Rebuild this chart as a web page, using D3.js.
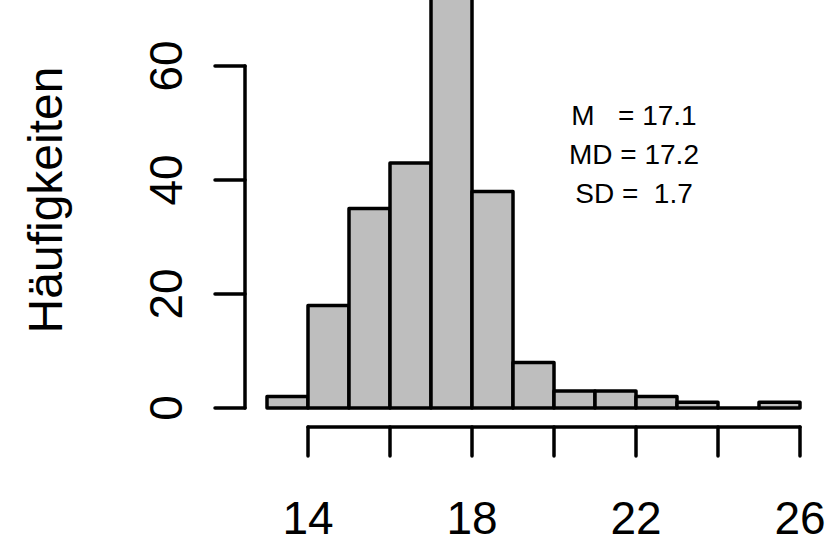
<!DOCTYPE html>
<html>
<head>
<meta charset="utf-8">
<script src="https://cdn.jsdelivr.net/npm/d3@7"></script>
<style>
	html, body { margin: 0; padding: 0; background: #fff; }
	svg { display: block; font-family: "Liberation Sans", Arial, sans-serif; }
</style>
</head>
<body>
<div id="chart"></div>
<script>
/**
 * Data
 */
let binEdges = [13, 14, 15, 16, 17, 18, 19, 20, 21, 22, 23, 24, 25, 26];
let counts = [2, 18, 35, 43, 75, 38, 8, 3, 3, 2, 1, 0, 1];
let xTicks = [14, 16, 18, 20, 22, 24, 26];
let xTickLabels = ["14", "", "18", "", "22", "", "26"];
let yTicks = [0, 20, 40, 60];
let statLines = ["M   = 17.1", "MD = 17.2", "SD =  1.7"];
let yTitle = "Häufigkeiten";

/**
 * Dimensions
 */
let width = 836;
let height = 536;
let lineW = 3.5;

let svg = d3.select("#chart").append("svg")
	.attr("width", width)
	.attr("height", height);

// Scales
let xScale = d3.scaleLinear().domain([13, 26]).range([267, 800]);
let yScale = d3.scaleLinear().domain([0, 60]).range([408, 66]);

let bins = counts.map(function(c, i) {
	return { x0: binEdges[i], x1: binEdges[i + 1], count: c };
});

// Bars (drawn as closed paths so that an empty bin still shows its outline)
svg.append("g").classed("bars", true)
	.selectAll("path")
	.data(bins)
	.enter().append("path")
	.attr("d", function(d) {
		let p = d3.path();
		p.moveTo(xScale(d.x0), yScale(0));
		p.lineTo(xScale(d.x0), yScale(d.count));
		p.lineTo(xScale(d.x1), yScale(d.count));
		p.lineTo(xScale(d.x1), yScale(0));
		p.closePath();
		return p.toString();
	})
	.attr("fill", "#bebebe")
	.attr("stroke", "#000")
	.attr("stroke-width", lineW)
	.attr("stroke-linejoin", "round")
	.attr("stroke-linecap", "round");

// Y Axis (R style, offset to the left)
let yAxis = svg.append("g").classed("yAxis", true)
	.attr("transform", "translate(245,0)");

yAxis.append("line")
	.attr("x1", 0).attr("x2", 0)
	.attr("y1", yScale(0)).attr("y2", yScale(60))
	.attr("stroke", "#000")
	.attr("stroke-width", lineW)
	.attr("stroke-linecap", "round");

yAxis.selectAll(".tick")
	.data(yTicks)
	.enter().append("line")
	.attr("x1", -30).attr("x2", 0)
	.attr("y1", function(d) { return yScale(d); })
	.attr("y2", function(d) { return yScale(d); })
	.attr("stroke", "#000")
	.attr("stroke-width", lineW)
	.attr("stroke-linecap", "round");

yAxis.selectAll("text")
	.data(yTicks)
	.enter().append("text")
	.attr("transform", function(d) { return "translate(-63," + yScale(d) + ") rotate(-90)"; })
	.attr("text-anchor", "middle")
	.attr("font-size", 46)
	.text(function(d) { return d; });

// X Axis
let xAxis = svg.append("g").classed("xAxis", true)
	.attr("transform", "translate(0,427)");

xAxis.append("line")
	.attr("x1", xScale(14)).attr("x2", xScale(26))
	.attr("y1", 0).attr("y2", 0)
	.attr("stroke", "#000")
	.attr("stroke-width", lineW)
	.attr("stroke-linecap", "round");

xAxis.selectAll(".tick")
	.data(xTicks)
	.enter().append("line")
	.attr("x1", function(d) { return xScale(d); })
	.attr("x2", function(d) { return xScale(d); })
	.attr("y1", 0).attr("y2", 29)
	.attr("stroke", "#000")
	.attr("stroke-width", lineW)
	.attr("stroke-linecap", "round");

xAxis.selectAll("text")
	.data(xTicks)
	.enter().append("text")
	.attr("x", function(d) { return xScale(d); })
	.attr("y", 107)
	.attr("text-anchor", "middle")
	.attr("font-size", 46)
	.text(function(d, i) { return xTickLabels[i]; });

// Y Title
svg.append("text")
	.attr("transform", "translate(62,200) rotate(-90)")
	.attr("text-anchor", "middle")
	.attr("font-size", 48)
	.text(yTitle);

// Stats text
svg.append("g").classed("stats", true)
	.selectAll("text")
	.data(statLines)
	.enter().append("text")
	.attr("x", 634)
	.attr("y", function(d, i) { return 125 + i * 39; })
	.attr("text-anchor", "middle")
	.attr("font-size", 28)
	.style("white-space", "pre")
	.attr("xml:space", "preserve")
	.text(function(d) { return d; });
</script>
</body>
</html>
